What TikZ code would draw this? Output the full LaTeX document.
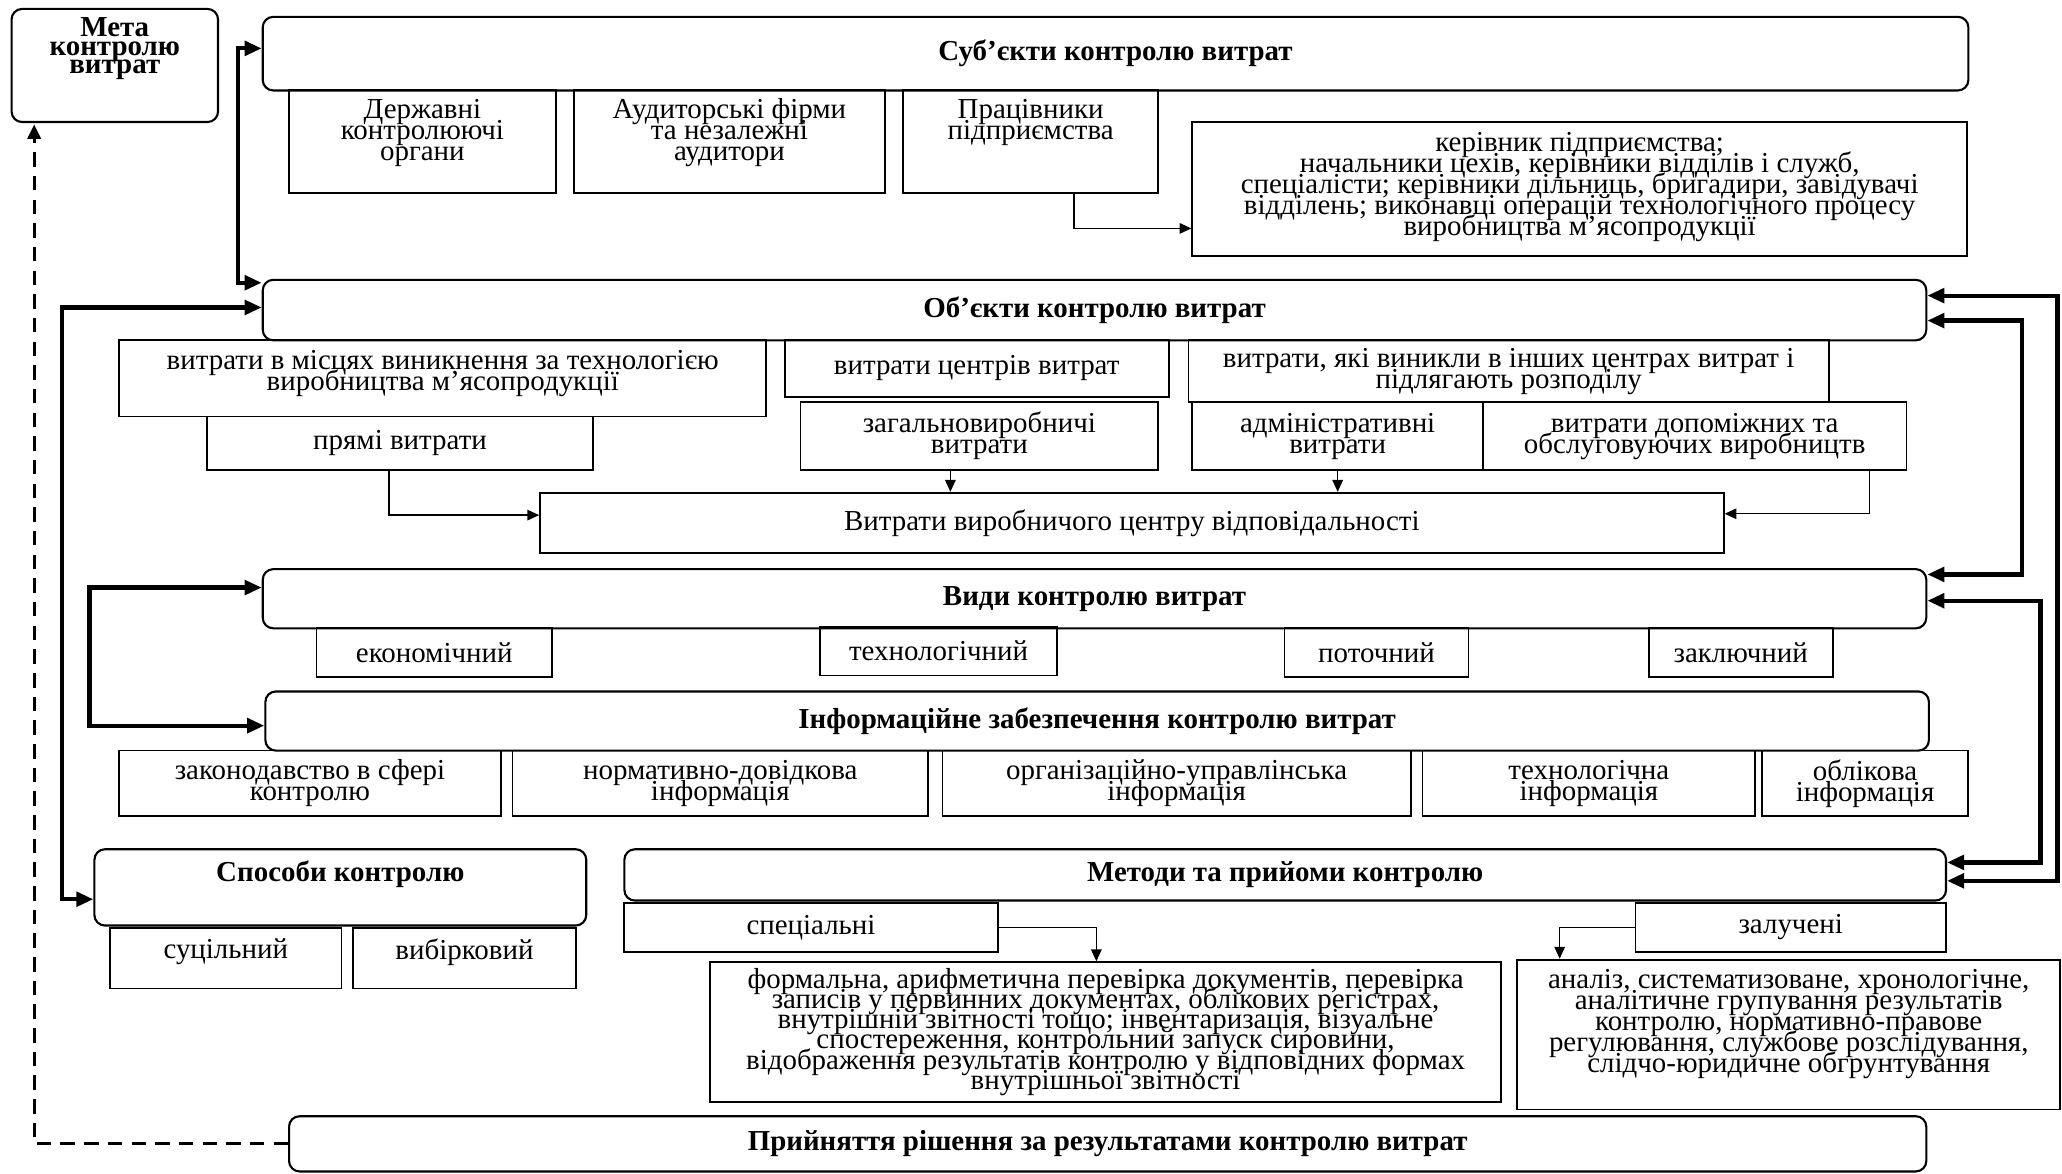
\documentclass[tikz,border=0pt]{standalone}
\usepackage{fontspec}
\setmainfont{Liberation Serif}
\usepackage{tikz}
\usetikzlibrary{calc}
\usetikzlibrary{arrows.meta}

\tikzset{
  cell/.style n args={4}{anchor=north west, at={(#1,#2)},
    minimum width={(#3-#1)*0.5pt}, minimum height={(#4-#2)*0.5pt}},
  rbox/.style={draw, rounded corners=4pt, line width=0.8pt, inner sep=0pt},
  sbox/.style={draw, line width=0.7pt, inner sep=0pt},
  txt/.style={align=center, inner sep=0pt, font={\fontsize{11}{8}\selectfont\lineskiplimit=-10pt}},
  ttl/.style={txt, font={\fontsize{11}{8}\selectfont\lineskiplimit=-10pt\bfseries}},
  link/.style={line width=0.5pt, -{Triangle[length=4.5pt,width=4pt]}},
  biglink/.style={line width=1.6pt, {Triangle[length=6.5pt,width=5.5pt]}-{Triangle[length=6.5pt,width=5.5pt]}},
  backlink/.style={line width=1.1pt, dash pattern=on 5.5pt off 3.5pt, -{Triangle[length=5.5pt,width=5pt]}}
}

\begin{document}
\begin{tikzpicture}[x=0.5pt, y=-0.5pt]
  % Frame of the whole scheme
  \useasboundingbox (0,0) rectangle (1568,892);

  % Goal
  \node[rbox, cell={8}{6}{165}{92}] (meta) {};
  \node[ttl, font={\fontsize{11}{7}\selectfont\lineskiplimit=-10pt\bfseries}] (metatxt) at ($(meta.north)+(0,31)$) {Мета\\контролю\\витрат};

  % Subjects
  \node[rbox, ttl, cell={199}{12}{1496}{68}] (subj) {Суб’єкти контролю витрат};
  \node[sbox, cell={219}{68}{422}{146}] (derzh) {};
  \node[txt] (derzhtxt) at ($(derzh.north)+(0,33)$) {Державні\\контролюючі\\органи};
  \node[sbox, cell={436}{68}{672}{146}] (audyt) {};
  \node[txt] (audyttxt) at ($(audyt.north)+(0,33)$) {Аудиторські фірми\\та незалежні\\аудитори};
  \node[sbox, cell={686}{68}{880}{146}] (prac) {};
  \node[txt] (practxt) at ($(prac.north)+(0,25)$) {Працівники\\підприємства};
  \node[sbox, cell={906}{92}{1495}{194}] (keriv) {};
  \node[txt] (kerivtxt) at ($(keriv.north)+(0,50)$) {керівник підприємства;\\начальники цехів, керівники відділів і служб,\\спеціалісти; керівники дільниць, бригадири, завідувачі\\відділень; виконавці операцій технологічного процесу\\виробництва м'ясопродукції};

  % Objects
  \node[rbox, ttl, cell={199}{212}{1464}{258}] (obj) {Об’єкти контролю витрат};
  \node[sbox, cell={90}{258}{582}{316}] (mists) {};
  \node[txt] (miststxt) at ($(mists.north)+(0,26)$) {витрати в місцях виникнення за технологією\\виробництва м'ясопродукції};
  \node[sbox, txt, cell={157}{316}{450}{357}] (pryami) {прямі витрати};
  \node[sbox, txt, cell={596}{258}{888}{301}] (centr) {витрати центрів витрат};
  \node[sbox, txt, cell={608}{305}{880}{357}] (zag) {загальновиробничі\\витрати};
  \node[sbox, txt, cell={903}{258}{1390}{305}] (inshi) {витрати, які виникли в інших центрах витрат і\\підлягають розподілу};
  \node[sbox, txt, cell={906}{305}{1127}{357}] (adm) {адміністративні\\витрати};
  \node[sbox, txt, cell={1127}{305}{1449}{357}] (dop) {витрати допоміжних та\\обслуговуючих виробництв};
  \node[sbox, txt, cell={410}{374}{1310}{420}] (vidp) {Витрати виробничого центру відповідальності};

  % Kinds
  \node[rbox, ttl, cell={199}{432}{1464}{477}] (vydy) {Види контролю витрат};
  \node[sbox, txt, cell={240}{477}{419}{514}] (ekon) {економічний};
  \node[sbox, txt, cell={623}{476}{803}{513}] (tekh) {технологічний};
  \node[sbox, txt, cell={976}{477}{1116}{514}] (potoch) {поточний};
  \node[sbox, txt, cell={1253}{477}{1393}{514}] (zakl) {заключний};

  % Information
  \node[rbox, ttl, cell={201}{525}{1466}{570}] (inf) {Інформаційне забезпечення контролю витрат};
  \node[sbox, txt, cell={90}{570}{380}{620}] (zakon) {законодавство в сфері\\контролю};
  \node[sbox, txt, cell={389}{570}{705}{620}] (norm) {нормативно-довідкова\\інформація};
  \node[sbox, txt, cell={716}{570}{1072}{620}] (org) {організаційно-управлінська\\інформація};
  \node[sbox, txt, cell={1081}{570}{1334}{620}] (tekhinf) {технологічна\\інформація};
  \node[sbox, txt, cell={1339}{570}{1496}{620}] (oblik) {облікова\\інформація};

  % Ways
  \node[rbox, cell={71}{645}{445}{703}] (spos) {};
  \node[ttl] (spostxt) at ($(spos.north)+(0,20)$) {Способи контролю};
  \node[sbox, cell={83}{705}{259}{751}] (sutsil) {};
  \node[txt] (sutsiltxt) at ($(sutsil.north)+(0,19)$) {суцільний};
  \node[sbox, cell={268}{705}{437}{751}] (vybirk) {};
  \node[txt] (vybirktxt) at ($(vybirk.north)+(0,19)$) {вибірковий};

  % Methods
  \node[rbox, ttl, cell={474}{645}{1479}{684}] (metody) {Методи та прийоми контролю};
  \node[sbox, txt, cell={474}{686}{758}{723}] (spec) {спеціальні};
  \node[sbox, txt, cell={1243}{686}{1479}{723}] (zal) {залучені};
  \node[sbox, txt, font={\fontsize{11}{7.7}\selectfont\lineskiplimit=-10pt}, cell={539}{731}{1141}{837}] (formal) {формальна, арифметична перевірка документів, перевірка\\записів у первинних документах, облікових регістрах,\\внутрішній звітності тощо; інвентаризація, візуальне\\спостереження, контрольний запуск сировини,\\відображення результатів контролю у відповідних формах\\внутрішньої звітності};
  \node[sbox, cell={1153}{729}{1566}{843}] (anal) {};
  \node[txt] (analtxt) at ($(anal.north)+(0,50)$) {аналіз, систематизоване, хронологічне,\\аналітичне групування результатів\\контролю, нормативно-правове\\регулювання, службове розслідування,\\слідчо-юридичне обгрунтування};

  % Decision
  \node[rbox, ttl, cell={219}{848}{1464}{890}] (pryin) {Прийняття рішення за результатами контролю витрат};

  % Thin arrows inside the blocks
  \draw[link] ($(prac.south)+(33,0)$) |- ($(keriv.west)+(0,30)$);
  \draw[link] ($(pryami.south)+(-8.5,0)$) |- ($(vidp.west)+(0,-6)$);
  \coordinate (zagout) at ($(zag.south)+(-22,0)$);
  \draw[link] (zagout) -- (zagout |- vidp.north);
  \draw[link] (adm.south) -- (adm.south |- vidp.north);
  \draw[link] ($(dop.south east)+(-29,0)$) |- ($(vidp.east)+(0,-7)$);
  \draw[link] (spec.east) -| ($(formal.north)+(-7,0)$);
  \draw[link] (zal.west) -| ($(anal.north west)+(33,0)$);

  % Thick links on the left
  \draw[biglink] ($(subj.west)+(0,-4)$) -- ++(-18,0) |- ($(obj.north west)+(0,3)$);
  \draw[biglink] ($(obj.west)+(0,-2)$) -- ++(-152,0) |- ($(spos.west)+(0,9)$);
  \draw[biglink] ($(vydy.west)+(0,-8.5)$) -- ++(-131,0) |- ($(inf.west)+(0,3.5)$);

  % Thick links on the right
  \draw[biglink] ($(obj.east)+(0,-11)$) -- ++(99,0) |- ($(metody.east)+(0,4.5)$);
  \draw[biglink] ($(obj.east)+(0,8)$) -- ++(72,0) |- ($(vydy.east)+(0,-18.5)$);
  \draw[biglink] ($(vydy.east)+(0,1.5)$) -- ++(86,0) |- ($(metody.east)+(0,-9.5)$);

  % Feedback to the goal
  \draw[backlink] (pryin.west) -| ($(meta.south west)+(18,1)$);
\end{tikzpicture}
\end{document}
